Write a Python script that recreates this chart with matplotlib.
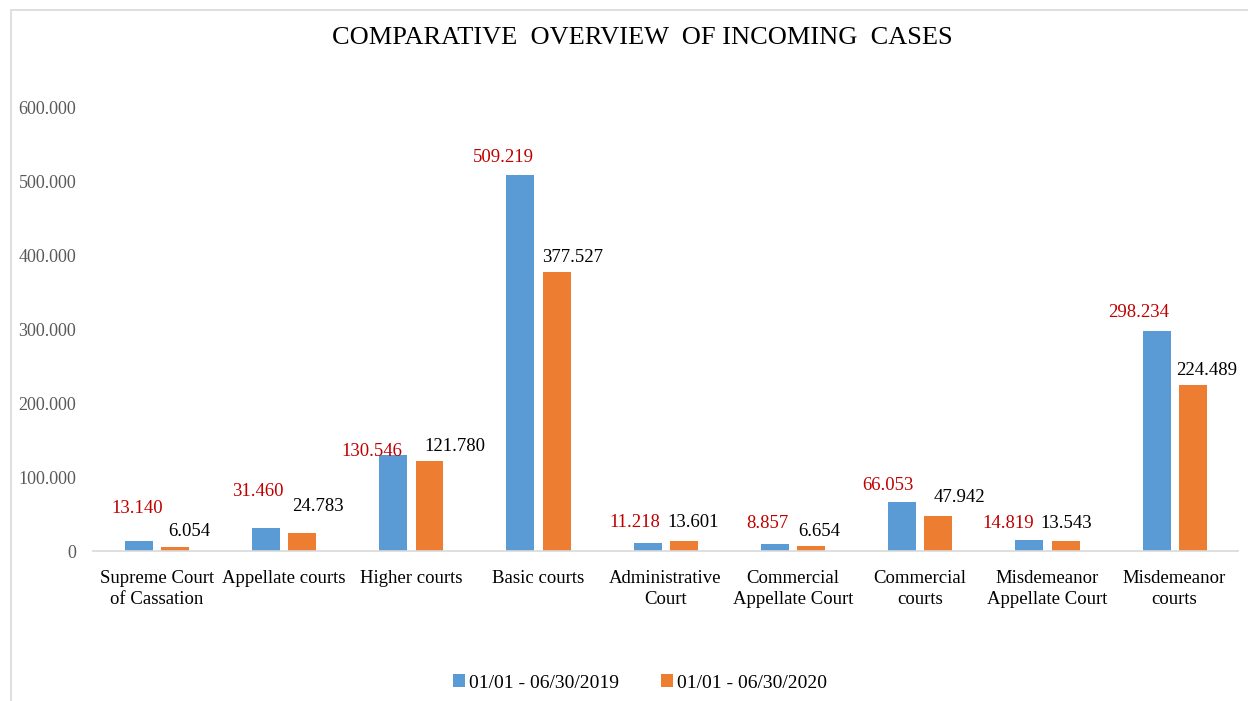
import matplotlib.pyplot as plt
import matplotlib.patches as mpatches
import numpy as np

plt.rcParams['font.family'] = ['Liberation Serif', 'DejaVu Serif']

# data
categories = ['Supreme Court\nof Cassation', 'Appellate courts', 'Higher courts',
              'Basic courts', 'Administrative\nCourt', 'Commercial\nAppellate Court',
              'Commercial\ncourts', 'Misdemeanor\nAppellate Court', 'Misdemeanor\ncourts']
cases_2019 = [13140, 31460, 130546, 509219, 11218, 8857, 66053, 14819, 298234]
cases_2020 = [6054, 24783, 121780, 377527, 13601, 6654, 47942, 13543, 224489]
series_names = ['01/01 - 06/30/2019', '01/01 - 06/30/2020']
yticks = [0, 100000, 200000, 300000, 400000, 500000, 600000]

# label offsets (pixels) as placed by hand in the original
off_2019 = [(-2, 33), (-8, 36), (-21, 3), (-17, 18), (-13, 20), (-8, 21), (-14, 17), (-21, 17), (-18, 18)]
off_2020 = [(14, 15), (16, 26), (25, 15), (16, 15), (9, 18), (8, 15), (21, 18), (1, 18), (14, 15)]

blue = '#5B9BD5'
orange = '#ED7D31'


def fmt(v):
    return '{:,}'.format(v).replace(',', '.')


W, H = 1248, 701
fig = plt.figure(figsize=(W / 100, H / 100), dpi=100)
fig.patches.append(mpatches.Rectangle((11 / W, -0.1), 1.2, 1 - 10 / H + 0.1,
                                      transform=fig.transFigure, fill=False,
                                      edgecolor='#D9D9D9', linewidth=1.2))
ax = fig.add_axes([93 / W, 1 - 551 / H, (1238 - 93) / W, (551 - 108) / H])

x = np.arange(len(categories))
bw = 0.22
b1 = ax.bar(x - 0.14, cases_2019, bw, color=blue, label=series_names[0])
b2 = ax.bar(x + 0.145, cases_2020, bw, color=orange, label=series_names[1])

px = 72 / 100
for i, (r1, r2) in enumerate(zip(b1, b2)):
    ax.annotate(fmt(cases_2019[i]), (r1.get_x() + r1.get_width() / 2, r1.get_height()),
                xytext=(off_2019[i][0] * px, off_2019[i][1] * px), textcoords='offset points',
                ha='center', va='center', fontsize=13.5, color='#C00000', annotation_clip=False)
    ax.annotate(fmt(cases_2020[i]), (r2.get_x() + r2.get_width() / 2, r2.get_height()),
                xytext=(off_2020[i][0] * px, off_2020[i][1] * px), textcoords='offset points',
                ha='center', va='center', fontsize=13.5, color='black', annotation_clip=False)

ax.set_xlim(-0.5, len(categories) - 0.5)
ax.set_ylim(0, 600000)
ax.set_yticks(yticks)
ax.set_yticklabels([fmt(v) for v in yticks], color='#595959', fontsize=13)
ax.set_xticks(x)
ax.set_xticklabels(categories, fontsize=13.5, linespacing=1.25)
ax.tick_params(axis='both', length=0)
ax.tick_params(axis='y', pad=12)
ax.tick_params(axis='x', pad=14)
for s in ['top', 'right', 'left']:
    ax.spines[s].set_visible(False)
ax.spines['bottom'].set_color('#D9D9D9')
ax.spines['bottom'].set_linewidth(1.2)

fig.text(642 / W, 1 - 38 / H, 'COMPARATIVE  OVERVIEW  OF INCOMING  CASES',
         ha='center', va='center', fontsize=19)

fig.legend(handles=[b1, b2], labels=series_names, loc='center', bbox_to_anchor=(640 / W, 1 - 683 / H),
           ncol=2, frameon=False, fontsize=14, handlelength=0.6, handleheight=0.6,
           handletextpad=0.2, columnspacing=2.2)

fig.savefig('out.png', dpi=100, facecolor='white')
